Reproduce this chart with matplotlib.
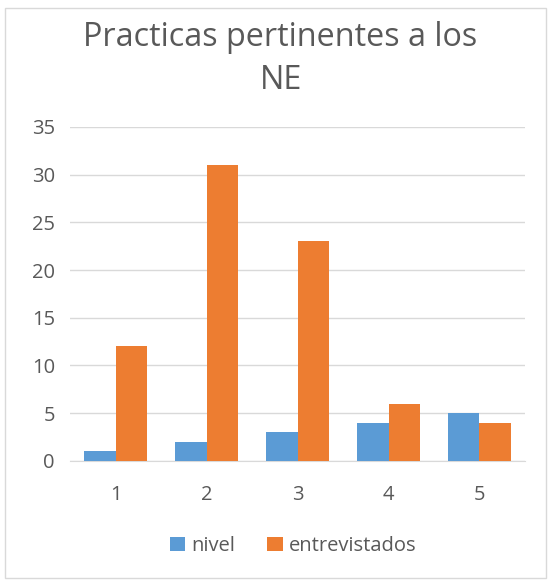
import numpy as np
import matplotlib.pyplot as plt
from matplotlib.patches import Rectangle

categorias = ['1', '2', '3', '4', '5']
nivel = [1, 2, 3, 4, 5]
entrevistados = [12, 31, 23, 6, 4]

plt.rcParams['font.family'] = ['Open Sans', 'DejaVu Sans']

fig = plt.figure(figsize=(5.48, 5.82), dpi=100)
ax = fig.add_axes([0.128, 0.208, 0.83, 0.574])

x = np.arange(len(categorias))
ancho = 0.35
ax.bar(x - ancho / 2, nivel, ancho, color='#5B9BD5', label='nivel', zorder=3)
ax.bar(x + ancho / 2, entrevistados, ancho, color='#ED7D31', label='entrevistados', zorder=3)

ax.set_xlim(-0.5, len(categorias) - 0.5)
ax.set_ylim(0, 35)
ax.set_yticks(range(0, 36, 5))
ax.set_xticks(x)
ax.set_xticklabels(categorias)
ax.yaxis.grid(True, color='#D9D9D9', lw=1, zorder=0)
for s in ['top', 'right', 'left']:
    ax.spines[s].set_visible(False)
ax.spines['bottom'].set_color('#D9D9D9')
ax.tick_params(axis='both', length=0, labelsize=14.5, colors='#595959')
ax.tick_params(axis='x', pad=17)
ax.tick_params(axis='y', pad=11)

fig.text(0.512, 0.899, 'Practicas pertinentes a los\nNE', ha='center', va='center',
         fontsize=23.3, color='#595959', linespacing=1.4)

fig.legend(loc='center', bbox_to_anchor=(0.535, 0.062), ncol=2, frameon=False,
           fontsize=14.5, labelcolor='#595959', handlelength=0.75, handleheight=0.75,
           columnspacing=1.6, handletextpad=0.3)

fig.patches.append(Rectangle((0.009, 0.007), 0.987, 0.979, transform=fig.transFigure,
                             fill=False, edgecolor='#D9D9D9', lw=1))

fig.savefig('out.png', dpi=100)
